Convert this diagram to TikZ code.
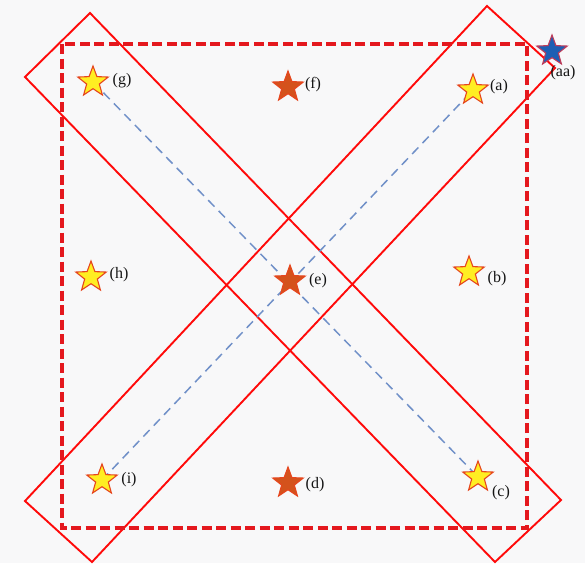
\documentclass[tikz,border=0pt]{standalone}
\usepackage{fontspec}
\setmainfont{Liberation Serif}
\usetikzlibrary{shapes.geometric}
\definecolor{bgc}{RGB}{248,248,249}
\definecolor{rectred}{RGB}{255,10,10}
\definecolor{dashred}{RGB}{228,24,30}
\definecolor{lineblue}{RGB}{112,144,200}
\definecolor{staryel}{RGB}{255,238,34}
\definecolor{starrim}{RGB}{230,70,30}
\definecolor{starorg}{RGB}{212,82,28}
\definecolor{starblu}{RGB}{30,95,180}
\definecolor{blurim}{RGB}{190,60,90}
\tikzset{
  startop/.style={star, star points=5, star point ratio=2.4, minimum size=32pt, inner sep=0pt, line width=1.1pt, draw=starrim},
  yelstar/.style={startop, fill=staryel},
  orgstar/.style={startop, fill=starorg, draw=starrim},
  blustar/.style={startop, fill=starblu, draw=blurim},
  lab/.style={font=\fontsize{16}{19}\selectfont, inner sep=0pt, text=black!92},
  bigrect/.style={draw=rectred, line width=1.9pt, line join=miter},
  dashrect/.style={draw=dashred, line width=3.4pt, dash pattern=on 10pt off 4.5pt},
  diag/.style={draw=lineblue, line width=1.5pt, dash pattern=on 9pt off 6pt}
}
\begin{document}
\begin{tikzpicture}[x=1pt,y=-1pt]
\fill[bgc] (0,0) rectangle (585,563);
\useasboundingbox (0,0) rectangle (585,563);
% tilted rectangles
\coordinate (r1a) at (90,13);
\coordinate (r1b) at (561,500);
\coordinate (r1c) at (495,562);
\coordinate (r1d) at (25,77);
\coordinate (r2a) at (487,6);
\coordinate (r2b) at (555,68);
\coordinate (r2c) at (92,562);
\coordinate (r2d) at (25,501);
\draw[bigrect] (r1a) -- (r1b) -- (r1c) -- (r1d) -- cycle;
\draw[bigrect] (r2a) -- (r2b) -- (r2c) -- (r2d) -- cycle;
% dashed square
\coordinate (sq1) at (62,44);
\coordinate (sq2) at (527,528);
\draw[dashrect] (sq1) rectangle (sq2);
% diagonal helpers at star centres
\coordinate (pg) at (93,82);
\coordinate (pc) at (478,477);
\coordinate (pi) at (102,480);
\coordinate (pa) at (473,90);
\draw[diag] (pg) -- (pc);
\draw[diag] (pi) -- (pa);
% stars
\node[yelstar] (g) at (pg) {};
\node[orgstar] (f) at (288,87) {};
\node[yelstar] (a) at (pa) {};
\node[yelstar] (h) at (91,277) {};
\node[orgstar] (e) at (290,281) {};
\node[yelstar] (b) at (469,272) {};
\node[yelstar] (i) at (pi) {};
\node[orgstar] (d) at (288,483) {};
\node[yelstar] (c) at (pc) {};
\node[blustar] (aa) at (552,51) {};
% labels
\node[lab] (lg) at (122,81) {(g)};
\node[lab] (lf) at (313,85) {(f)};
\node[lab] (la) at (499,87) {(a)};
\node[lab] (lh) at (119,275) {(h)};
\node[lab] (le) at (318,281) {(e)};
\node[lab] (lb) at (497,279) {(b)};
\node[lab] (li) at (129,480) {(i)};
\node[lab] (ld) at (315,485) {(d)};
\node[lab] (lc) at (501,493) {(c)};
\node[lab] (laa) at (563,73) {(aa)};
\end{tikzpicture}
\end{document}
